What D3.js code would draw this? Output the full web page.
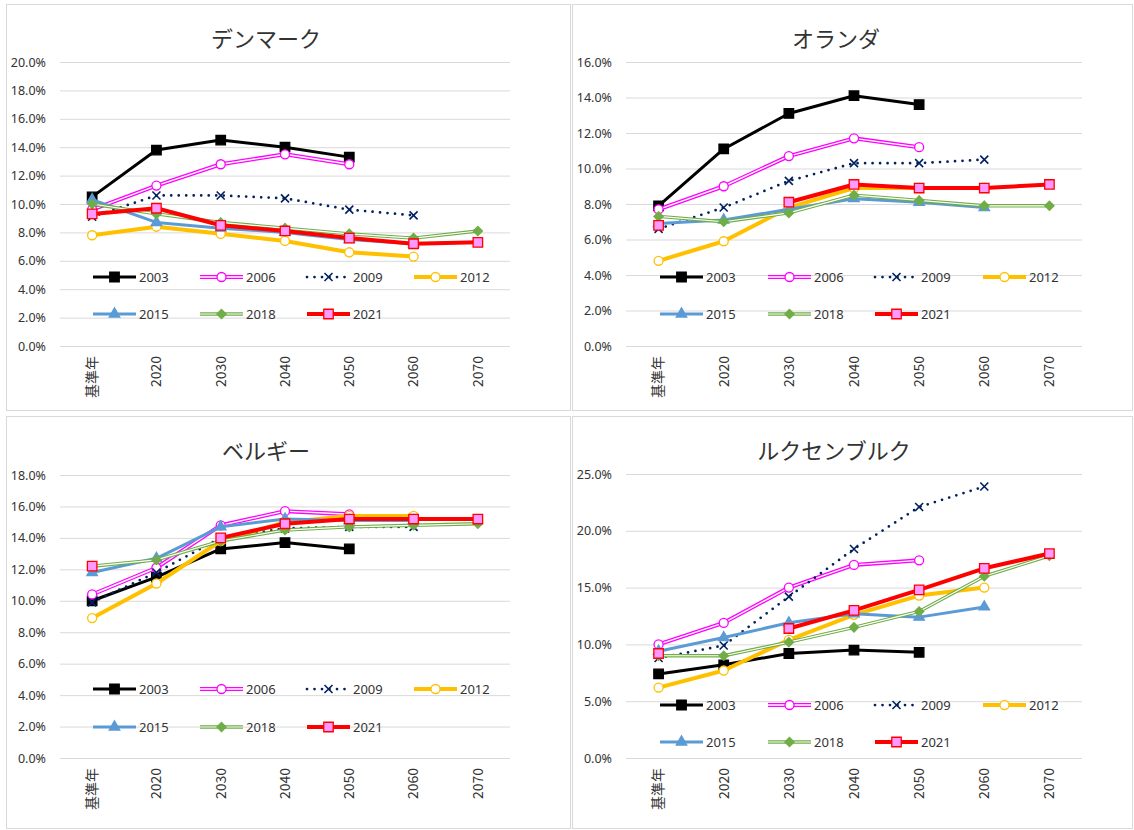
<!DOCTYPE html>
<html>
<head>
<meta charset="utf-8">
<script src="https://cdn.jsdelivr.net/npm/d3@7"></script>
<style>
  body { margin: 0; background: #fff; }
  svg { display: block; }
  text { font-family: "Noto Sans CJK JP", "Noto Sans", sans-serif; }
</style>
</head>
<body>
<svg id="chart" width="1134" height="830"></svg>
<script>
// Categories on the x axis (base year, then projection years)
const categories = ["基準年", "2020", "2030", "2040", "2050", "2060", "2070"];
// Projection vintages, one line each
const seriesNames = ["2003", "2006", "2009", "2012", "2015", "2018", "2021"];

// Values in percent, one row per vintage, columns follow categories
const denmarkValues = [
  [10.5, 13.8, 14.5, 14.0, 13.3, null, null],
  [9.6, 11.3, 12.8, 13.5, 12.8, null, null],
  [9.1, 10.6, 10.6, 10.4, 9.6, 9.2, null],
  [7.8, 8.4, 7.9, 7.4, 6.6, 6.3, null],
  [10.3, 8.7, 8.3, 8.0, 7.5, 7.2, null],
  [10.0, 9.3, 8.7, 8.3, 7.9, 7.6, 8.1],
  [9.3, 9.7, 8.5, 8.1, 7.6, 7.2, 7.3]
];
const netherlandsValues = [
  [7.9, 11.1, 13.1, 14.1, 13.6, null, null],
  [7.7, 9.0, 10.7, 11.7, 11.2, null, null],
  [6.6, 7.8, 9.3, 10.3, 10.3, 10.5, null],
  [4.8, 5.9, 7.8, 8.9, 8.9, 8.9, null],
  [6.9, 7.1, 7.7, 8.3, 8.1, 7.8, null],
  [7.3, 7.0, 7.5, 8.5, 8.2, 7.9, 7.9],
  [6.8, null, 8.1, 9.1, 8.9, 8.9, 9.1]
];
const belgiumValues = [
  [10.0, 11.5, 13.3, 13.7, 13.3, null, null],
  [10.4, 12.1, 14.8, 15.7, 15.5, null, null],
  [9.9, 11.8, 14.0, 14.6, 14.7, 14.7, null],
  [8.9, 11.1, 13.8, 15.0, 15.4, 15.4, null],
  [11.8, 12.7, 14.7, 15.2, 15.1, 15.1, null],
  [12.2, 12.6, 13.8, 14.5, 14.7, 14.8, 14.9],
  [12.2, null, 14.0, 14.9, 15.2, 15.2, 15.2]
];
const luxembourgValues = [
  [7.4, 8.2, 9.2, 9.5, 9.3, null, null],
  [10.0, 11.9, 15.0, 17.0, 17.4, null, null],
  [8.8, 9.9, 14.2, 18.4, 22.1, 23.9, null],
  [6.2, 7.7, 10.4, 12.6, 14.3, 15.0, null],
  [9.4, 10.6, 11.9, 12.7, 12.4, 13.3, null],
  [9.0, 9.0, 10.2, 11.5, 12.9, 16.0, 17.8],
  [9.2, null, 11.4, 13.0, 14.8, 16.7, 18.0]
];

// Y tick values per chart
const denmarkTicks = [0, 2, 4, 6, 8, 10, 12, 14, 16, 18, 20];
const netherlandsTicks = [0, 2, 4, 6, 8, 10, 12, 14, 16];
const belgiumTicks = [0, 2, 4, 6, 8, 10, 12, 14, 16, 18];
const luxembourgTicks = [0, 5, 10, 15, 20, 25];

// Line and marker appearance per vintage
const seriesStyles = [
  { color: "#000000", width: 3, marker: "square", fill: "#000000", mstroke: "#000000" },
  { color: "#FF00FF", width: 4, inner: 1.4, marker: "circle", fill: "#ffffff", mstroke: "#FF00FF" },
  { color: "#002060", width: 2.75, dash: "0 7.5", marker: "x", mstroke: "#002060" },
  { color: "#FFC000", width: 4, marker: "circle", fill: "#ffffff", mstroke: "#FFC000" },
  { color: "#5B9BD5", width: 3, marker: "triangle", fill: "#5B9BD5", mstroke: "#5B9BD5" },
  { color: "#70AD47", width: 3.4, inner: 1.2, marker: "diamond", fill: "#70AD47", mstroke: "#70AD47" },
  { color: "#FF0000", width: 4, marker: "square", fill: "#FF99FF", mstroke: "#FF0000" }
];

// Panel layout
const panels = [
  { title: "デンマーク", values: denmarkValues, ticks: denmarkTicks,
    box: [6, 4, 564, 406], titleX: 266, titleY: 37,
    plot: { left: 60, right: 510, top: 62, bottom: 346 },
    legendX: [93, 200, 307, 414], legendY: [277, 314] },
  { title: "オランダ", values: netherlandsValues, ticks: netherlandsTicks,
    box: [572, 4, 560, 406], titleX: 836, titleY: 37,
    plot: { left: 626, right: 1082, top: 62, bottom: 346 },
    legendX: [660, 768, 875, 983], legendY: [277, 314] },
  { title: "ベルギー", values: belgiumValues, ticks: belgiumTicks,
    box: [6, 416, 564, 412], titleX: 266, titleY: 449,
    plot: { left: 60, right: 510, top: 475, bottom: 758 },
    legendX: [93, 200, 307, 414], legendY: [689, 727] },
  { title: "ルクセンブルク", values: luxembourgValues, ticks: luxembourgTicks,
    box: [572, 416, 560, 412], titleX: 834, titleY: 449,
    plot: { left: 626, right: 1082, top: 474, bottom: 758 },
    legendX: [660, 768, 875, 983], legendY: [705, 742] }
];

const svg = d3.select("#chart");
const textColor = "#333333";
const gridColor = "#d9d9d9";

function drawPath(g, d, s) {
  const p = g.append("path").attr("d", d).attr("fill", "none")
    .attr("stroke", s.color).attr("stroke-width", s.width)
    .attr("stroke-linejoin", "round");
  if (s.dash) p.attr("stroke-dasharray", s.dash).attr("stroke-linecap", "round");
  if (s.inner) {
    g.append("path").attr("d", d).attr("fill", "none")
      .attr("stroke", "#ffffff").attr("stroke-width", s.inner)
      .attr("stroke-linejoin", "round");
  }
}

function drawMarker(g, x, y, s) {
  const m = g.append("g").attr("transform", `translate(${x},${y})`);
  if (s.marker === "x") {
    m.append("path").attr("d", "M-4,-4L4,4M-4,4L4,-4")
      .attr("stroke", s.mstroke).attr("stroke-width", 1.6).attr("fill", "none");
    return;
  }
  let d;
  if (s.marker === "square") d = d3.symbol(d3.symbolSquare, 90)();
  else if (s.marker === "circle") d = d3.symbol(d3.symbolCircle, 64)();
  else if (s.marker === "triangle") d = d3.symbol(d3.symbolTriangle, 48)();
  else d = "M0,-4.6L4.6,0L0,4.6L-4.6,0Z";
  m.append("path").attr("d", d)
    .attr("fill", s.fill).attr("stroke", s.mstroke).attr("stroke-width", 1.3);
}

panels.forEach(p => {
  const g = svg.append("g");
  g.append("rect").attr("x", p.box[0] + 0.5).attr("y", p.box[1] + 0.5)
    .attr("width", p.box[2]).attr("height", p.box[3])
    .attr("fill", "#fff").attr("stroke", gridColor).attr("stroke-width", 1);

  const { left, right, top, bottom } = p.plot;
  const x = d3.scaleBand().domain(categories).range([left, right]).padding(0);
  const cx = c => x(c) + x.bandwidth() / 2;
  const yMax = p.ticks[p.ticks.length - 1];
  const y = d3.scaleLinear().domain([0, yMax]).range([bottom, top]);

  // Title
  g.append("text").attr("x", p.titleX).attr("y", p.titleY)
    .attr("text-anchor", "middle").attr("dominant-baseline", "central")
    .attr("font-size", 22).attr("fill", textColor).text(p.title);

  // Y axis with gridlines
  const ya = g.append("g").attr("transform", `translate(${left},0)`)
    .call(d3.axisLeft(y).tickValues(p.ticks).tickSize(-(right - left))
      .tickPadding(14).tickFormat(d => d.toFixed(1) + "%"));
  ya.select(".domain").remove();
  ya.selectAll(".tick line").attr("stroke", gridColor).attr("stroke-width", 1);
  ya.selectAll(".tick text").attr("fill", textColor).attr("font-size", 12.5)
    .style("font-family", '"Noto Sans", sans-serif');

  // X axis labels, rotated
  const xg = g.append("g").attr("transform", `translate(0,${bottom})`)
    .call(d3.axisBottom(x).tickSize(0));
  xg.select(".domain").remove();
  xg.selectAll(".tick text")
    .attr("transform", "rotate(-90)")
    .attr("text-anchor", "end")
    .attr("x", -10).attr("y", 0).attr("dy", "0.35em")
    .attr("fill", textColor).attr("font-size", 14);

  // Series lines and markers
  const line = d3.line().defined(d => d.v != null).x(d => cx(d.c)).y(d => y(d.v));
  p.values.forEach((row, i) => {
    const s = seriesStyles[i];
    const pts = row.map((v, j) => ({ c: categories[j], v }));
    const sg = g.append("g");
    drawPath(sg, line(pts), s);
    pts.filter(d => d.v != null).forEach(d => drawMarker(sg, cx(d.c), y(d.v), s));
  });

  // Legend
  seriesNames.forEach((name, i) => {
    const s = seriesStyles[i];
    const row = i < 4 ? 0 : 1;
    const col = i < 4 ? i : i - 4;
    const lx = p.legendX[col], ly = p.legendY[row];
    const lg = g.append("g");
    drawPath(lg, `M${lx},${ly}L${lx + 43},${ly}`, s);
    drawMarker(lg, lx + 21.5, ly, s);
    lg.append("text").attr("x", lx + 46).attr("y", ly)
      .attr("dominant-baseline", "central").attr("font-size", 13)
      .attr("fill", textColor).style("font-family", '"Noto Sans", sans-serif')
      .text(name);
  });
});
</script>
</body>
</html>
